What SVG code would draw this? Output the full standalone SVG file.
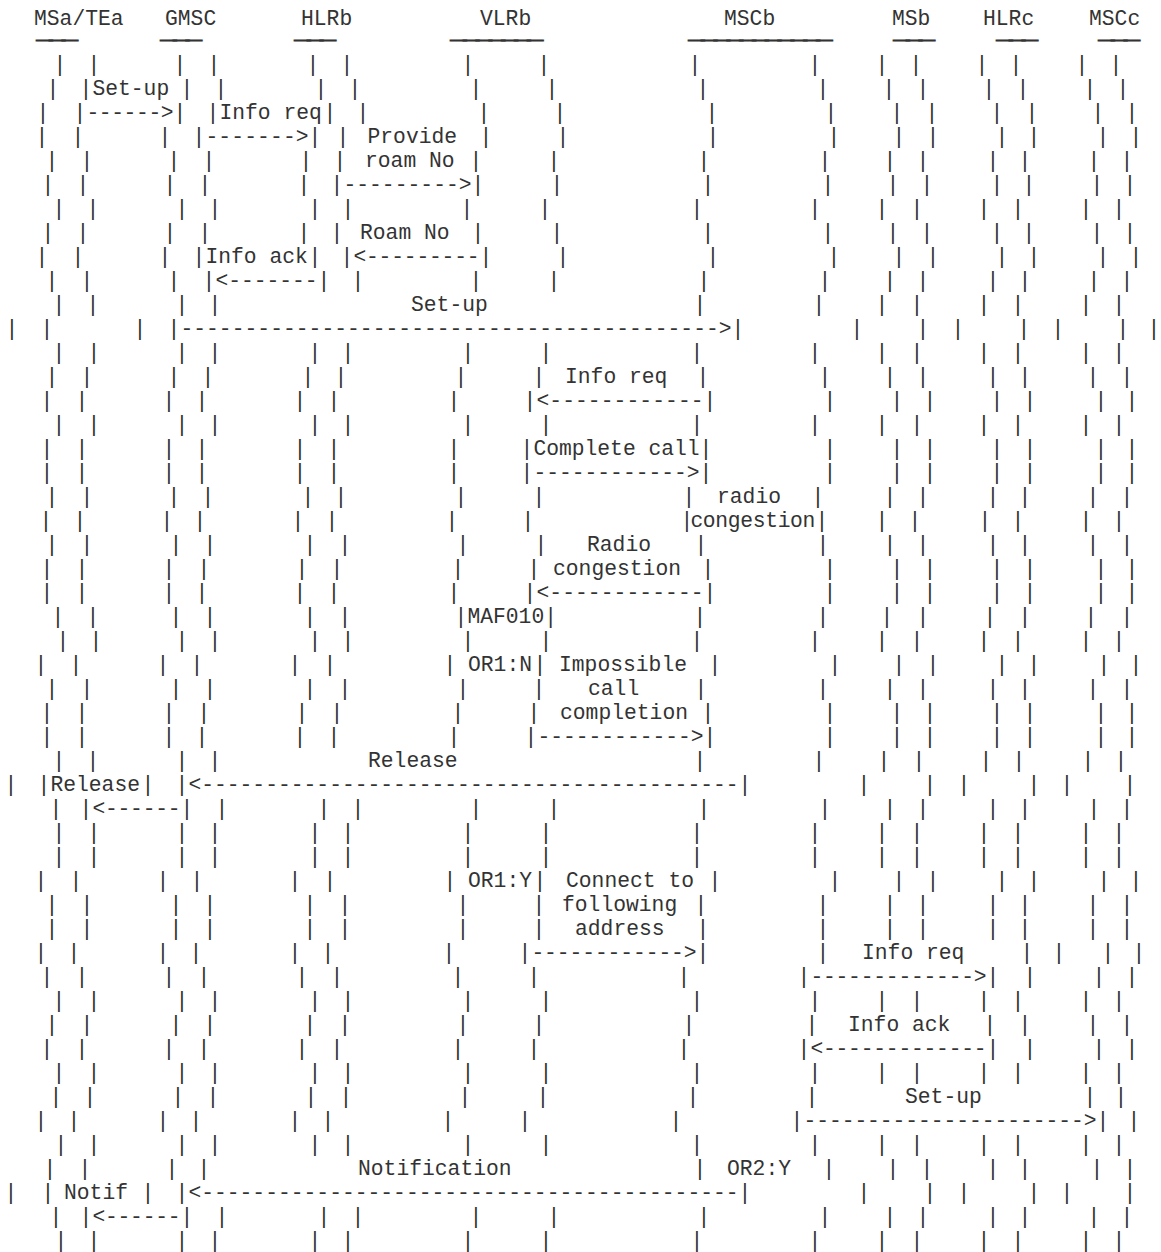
<svg xmlns="http://www.w3.org/2000/svg" width="1161" height="1252" viewBox="0 0 1161 1252">
<style>
text{font-family:"Liberation Mono","Courier New",monospace;font-size:21.33px;fill:#333;white-space:pre}
text.u{font-size:8px;stroke:#333;stroke-width:1.8;stroke-linejoin:miter}
</style>
<rect width="1161" height="1252" fill="#fff"/>
<g id="nodes">
<g id="node-msa-tea"><text x="34" y="25">MSa/TEa</text><text class="u" x="38" y="40" textLength="38.4" lengthAdjust="spacingAndGlyphs">___</text></g>
<g id="node-gmsc"><text x="165" y="25">GMSC</text><text class="u" x="162" y="40" textLength="38.4" lengthAdjust="spacingAndGlyphs">___</text></g>
<g id="node-hlrb"><text x="301" y="25">HLRb</text><text class="u" x="296" y="40" textLength="38.4" lengthAdjust="spacingAndGlyphs">___</text></g>
<g id="node-vlrb"><text x="480" y="25">VLRb</text><text class="u" x="452" y="40" textLength="89.6" lengthAdjust="spacingAndGlyphs">_______</text></g>
<g id="node-mscb"><text x="724" y="25">MSCb</text><text class="u" x="690" y="40" textLength="140.8" lengthAdjust="spacingAndGlyphs">___________</text></g>
<g id="node-msb"><text x="892" y="25">MSb</text><text class="u" x="895" y="40" textLength="38.4" lengthAdjust="spacingAndGlyphs">___</text></g>
<g id="node-hlrc"><text x="983" y="25">HLRc</text><text class="u" x="998" y="40" textLength="38.4" lengthAdjust="spacingAndGlyphs">___</text></g>
<g id="node-mscc"><text x="1089" y="25">MSCc</text><text class="u" x="1100" y="40" textLength="38.4" lengthAdjust="spacingAndGlyphs">___</text></g>
</g>
<g id="lifelines">
<text y="70.5" x="53.6 87.6 173.6 207.6 306.6 340.6 461.6 537.6 688.6 808.6 875.6 909.6 975.6 1009.6 1075.6 1109.6">||||||||||||||||</text>
<text y="94.5" x="46.6 79.6">||</text><text y="94.5" x="180.6 214.6 314.6 348.6 469.6 545.6 696.6 816.6 882.6 916.6 982.6 1016.6 1083.6 1116.6">||||||||||||||</text>
<text y="118.5" x="36.6 73.6">||</text><text y="118.5" x="173.6 206.6">||</text><text y="118.5" x="323.6 356.6 477.6 553.6 705.6 824.6 890.6 925.6 990.6 1025.6 1091.6 1125.6">||||||||||||</text>
<text y="142.5" x="35.6 71.6 158.6 192.6">||||</text><text y="142.5" x="308.6 336.6">||</text><text y="142.5" x="479.6 556.6 706.6 827.6 892.6 926.6 995.6 1027.6 1096.6 1129.6">||||||||||</text>
<text y="166.5" x="45.6 80.6 167.6 202.6 299.6 333.6">||||||</text><text y="166.5" x="469.6 547.6 697.6 818.6 883.6 916.6 986.6 1018.6 1087.6 1120.6">||||||||||</text>
<text y="190.5" x="41.6 76.6 163.6 198.6 297.6 330.6">||||||</text><text y="190.5" x="471.6 550.6 701.6 821.6 886.6 920.6 990.6 1022.6 1090.6 1123.6">||||||||||</text>
<text y="214.5" x="52.6 86.6 175.6 208.6 308.6 341.6 460.6 538.6 690.6 808.6 875.6 910.6 977.6 1011.6 1079.6 1112.6">||||||||||||||||</text>
<text y="238.5" x="41.6 76.6 163.6 198.6 297.6 330.6">||||||</text><text y="238.5" x="471.6 550.6 701.6 821.6 886.6 920.6 990.6 1022.6 1090.6 1123.6">||||||||||</text>
<text y="262.5" x="35.6 71.6 158.6 192.6">||||</text><text y="262.5" x="308.6 340.6">||</text><text y="262.5" x="479.6 556.6 706.6 827.6 892.6 926.6 995.6 1027.6 1096.6 1129.6">||||||||||</text>
<text y="286.5" x="45.6 80.6 167.6 202.6">||||</text><text y="286.5" x="317.6 351.6 469.6 547.6 697.6 818.6 883.6 916.6 986.6 1018.6 1087.6 1120.6">||||||||||||</text>
<text y="310.5" x="52.6 86.6 175.6 208.6">||||</text><text y="310.5" x="693.6 812.6 875.6 910.6 977.6 1011.6 1079.6 1112.6">||||||||</text>
<text y="334.5" x="5.6 40.6 133.6 167.6">||||</text><text y="334.5" x="731.6 850.6 916.6 951.6 1017.6 1051.6 1116.6 1147.6">||||||||</text>
<text y="358.5" x="52.6 87.6 175.6 208.6 308.6 341.6 461.6 539.6 690.6 808.6 875.6 910.6 977.6 1011.6 1079.6 1112.6">||||||||||||||||</text>
<text y="382.5" x="45.6 80.6 167.6 201.6 301.6 334.6 454.6 532.6">||||||||</text><text y="382.5" x="696.6 818.6 883.6 916.6 986.6 1018.6 1086.6 1120.6">||||||||</text>
<text y="406.5" x="40.6 75.6 162.6 195.6 293.6 327.6 447.6 523.6">||||||||</text><text y="406.5" x="703.6 823.6 890.6 923.6 990.6 1023.6 1094.6 1125.6">||||||||</text>
<text y="430.5" x="52.6 87.6 175.6 208.6 308.6 341.6 461.6 539.6 690.6 808.6 875.6 910.6 977.6 1011.6 1079.6 1112.6">||||||||||||||||</text>
<text y="454.5" x="40.6 75.6 162.6 195.6 293.6 327.6 447.6 520.6">||||||||</text><text y="454.5" x="699.6 823.6 890.6 923.6 990.6 1023.6 1094.6 1125.6">||||||||</text>
<text y="478.5" x="40.6 75.6 162.6 195.6 293.6 327.6 447.6 520.6">||||||||</text><text y="478.5" x="699.6 823.6 890.6 923.6 990.6 1023.6 1094.6 1125.6">||||||||</text>
<text y="502.5" x="45.6 80.6 167.6 201.6 301.6 334.6 454.6 532.6 682.6">|||||||||</text><text y="502.5" x="811.6 883.6 916.6 986.6 1018.6 1086.6 1120.6">|||||||</text>
<text y="526.5" x="39.6 73.6 160.6 193.6 291.6 325.6 445.6 521.6 680.6">|||||||||</text><text y="526.5" x="815.6 875.6 908.6 978.6 1011.6 1079.6 1112.6">|||||||</text>
<text y="550.5" x="45.6 80.6 169.6 203.6 303.6 338.6 456.6 534.6">||||||||</text><text y="550.5" x="694.6 816.6 883.6 916.6 986.6 1018.6 1086.6 1120.6">||||||||</text>
<text y="574.5" x="40.6 75.6 162.6 197.6 295.6 330.6 451.6 527.6">||||||||</text><text y="574.5" x="701.6 823.6 890.6 923.6 990.6 1023.6 1094.6 1125.6">||||||||</text>
<text y="598.5" x="40.6 75.6 162.6 195.6 293.6 327.6 447.6 523.6">||||||||</text><text y="598.5" x="703.6 823.6 890.6 923.6 990.6 1023.6 1094.6 1125.6">||||||||</text>
<text y="622.5" x="51.6 86.6 169.6 203.6 303.6 338.6 454.6">|||||||</text><text y="622.5" x="544.2 693.6 816.6 880.6 916.6 983.6 1018.6 1084.6 1120.6">|||||||||</text>
<text y="646.5" x="56.6 89.6 175.6 208.6 308.6 341.6 461.6 539.6 690.6 808.6 875.6 910.6 977.6 1011.6 1079.6 1112.6">||||||||||||||||</text>
<text y="670.5" x="34.6 69.6 156.6 190.6 288.6 323.6 443.6">|||||||</text><text y="670.5" x="533.6">|</text><text y="670.5" x="708.6 828.6 892.6 926.6 995.6 1027.6 1097.6 1129.6">||||||||</text>
<text y="694.5" x="45.6 80.6 169.6 203.6 303.6 338.6 456.6 532.6">||||||||</text><text y="694.5" x="694.6 816.6 883.6 916.6 986.6 1018.6 1086.6 1120.6">||||||||</text>
<text y="718.5" x="40.6 75.6 162.6 197.6 295.6 330.6 451.6 527.6">||||||||</text><text y="718.5" x="701.6 823.6 890.6 923.6 990.6 1023.6 1094.6 1125.6">||||||||</text>
<text y="742.5" x="40.6 75.6 162.6 195.6 293.6 327.6 447.6 524.6">||||||||</text><text y="742.5" x="703.6 823.6 890.6 923.6 990.6 1023.6 1094.6 1125.6">||||||||</text>
<text y="766.5" x="52.6 86.6 175.6 208.6">||||</text><text y="766.5" x="693.6 812.6 877.6 912.6 979.6 1012.6 1081.6 1114.6">||||||||</text>
<text y="790.5" x="4.6 37.6">||</text><text y="790.5" x="141.6 175.6">||</text><text y="790.5" x="738.6 857.6 923.6 957.6 1027.6 1060.6 1123.6">|||||||</text>
<text y="814.5" x="49.6 79.6">||</text><text y="814.5" x="180.6 215.6 317.6 351.6 469.6 547.6 697.6 818.6 883.6 916.6 986.6 1018.6 1087.6 1120.6">||||||||||||||</text>
<text y="838.5" x="52.6 87.6 175.6 208.6 308.6 341.6 461.6 539.6 690.6 808.6 875.6 910.6 977.6 1011.6 1079.6 1112.6">||||||||||||||||</text>
<text y="862.5" x="52.6 87.6 175.6 208.6 308.6 341.6 461.6 539.6 690.6 808.6 875.6 910.6 977.6 1011.6 1079.6 1112.6">||||||||||||||||</text>
<text y="886.5" x="34.6 69.6 156.6 190.6 288.6 323.6 443.6">|||||||</text><text y="886.5" x="533.6">|</text><text y="886.5" x="708.6 828.6 892.6 926.6 995.6 1027.6 1097.6 1129.6">||||||||</text>
<text y="910.5" x="45.6 80.6 169.6 203.6 303.6 338.6 456.6 532.6">||||||||</text><text y="910.5" x="694.6 816.6 883.6 916.6 986.6 1018.6 1086.6 1120.6">||||||||</text>
<text y="934.5" x="45.6 80.6 169.6 203.6 303.6 338.6 456.6 532.6">||||||||</text><text y="934.5" x="696.6 816.6 883.6 916.6 986.6 1018.6 1086.6 1120.6">||||||||</text>
<text y="958.5" x="34.6 67.6 156.6 189.6 288.6 321.6 442.6 518.6">||||||||</text><text y="958.5" x="696.6 816.6">||</text><text y="958.5" x="1020.6 1052.6 1101.6 1132.6">||||</text>
<text y="982.5" x="40.6 75.6 162.6 197.6 295.6 330.6 451.6 527.6 677.6 797.6">||||||||||</text><text y="982.5" x="986.6 1023.6 1092.6 1125.6">||||</text>
<text y="1006.5" x="52.6 87.6 175.6 208.6 308.6 341.6 461.6 539.6 690.6 808.6 875.6 910.6 977.6 1011.6 1079.6 1112.6">||||||||||||||||</text>
<text y="1030.5" x="45.6 80.6 169.6 203.6 303.6 338.6 456.6 532.6 682.6 805.6">||||||||||</text><text y="1030.5" x="983.6 1018.6 1086.6 1120.6">||||</text>
<text y="1054.5" x="40.6 75.6 162.6 197.6 295.6 330.6 451.6 527.6 677.6 797.6">||||||||||</text><text y="1054.5" x="986.6 1023.6 1092.6 1125.6">||||</text>
<text y="1078.5" x="52.6 87.6 175.6 208.6 308.6 341.6 461.6 539.6 690.6 808.6 875.6 910.6 977.6 1011.6 1079.6 1112.6">||||||||||||||||</text>
<text y="1102.5" x="49.6 83.6 171.6 206.6 304.6 339.6 458.6 536.6 686.6 805.6">||||||||||</text><text y="1102.5" x="1083.6 1114.6">||</text>
<text y="1126.5" x="34.6 67.6 156.6 189.6 288.6 321.6 441.6 518.6 669.6 790.6">||||||||||</text><text y="1126.5" x="1096.6 1127.6">||</text>
<text y="1150.5" x="54.6 87.6 175.6 208.6 308.6 341.6 461.6 539.6 690.6 808.6 875.6 910.6 977.6 1011.6 1079.6 1112.6">||||||||||||||||</text>
<text y="1174.5" x="43.6 78.6 165.6 197.6">||||</text><text y="1174.5" x="693.6">|</text><text y="1174.5" x="822.6 886.6 920.6 986.6 1018.6 1090.6 1123.6">|||||||</text>
<text y="1198.5" x="4.6 41.6">||</text><text y="1198.5" x="141.6 175.6">||</text><text y="1198.5" x="738.6 857.6 923.6 957.6 1027.6 1060.6 1123.6">|||||||</text>
<text y="1222.5" x="49.6 79.6">||</text><text y="1222.5" x="180.6 215.6 317.6 351.6 469.6 547.6 697.6 818.6 883.6 916.6 986.6 1018.6 1087.6 1120.6">||||||||||||||</text>
<text y="1246.5" x="54.6 87.6 175.6 208.6 308.6 341.6 461.6 539.6 690.6 808.6 875.6 910.6 977.6 1011.6 1079.6 1112.6">||||||||||||||||</text>
</g>
<g id="connectors">
<text x="86.4" y="118.5" textLength="87.2" lengthAdjust="spacing">------&gt;</text>
<text x="205.4" y="142.5" textLength="103.2" lengthAdjust="spacing">-------&gt;</text>
<text x="343.4" y="190.5" textLength="128.2" lengthAdjust="spacing">---------&gt;</text>
<text x="353.4" y="262.5" textLength="126.2" lengthAdjust="spacing">&lt;---------</text>
<text x="215.4" y="286.5" textLength="102.2" lengthAdjust="spacing">&lt;-------</text>
<text x="180.4" y="334.5" textLength="551.2" lengthAdjust="spacing">------------------------------------------&gt;</text>
<text x="536.4" y="406.5" textLength="167.2" lengthAdjust="spacing">&lt;------------</text>
<text x="533.4" y="478.5" textLength="166.2" lengthAdjust="spacing">------------&gt;</text>
<text x="536.4" y="598.5" textLength="167.2" lengthAdjust="spacing">&lt;------------</text>
<text x="537.4" y="742.5" textLength="166.2" lengthAdjust="spacing">------------&gt;</text>
<text x="188.4" y="790.5" textLength="550.2" lengthAdjust="spacing">&lt;------------------------------------------</text>
<text x="92.4" y="814.5" textLength="88.2" lengthAdjust="spacing">&lt;------</text>
<text x="531.4" y="958.5" textLength="165.2" lengthAdjust="spacing">------------&gt;</text>
<text x="810.4" y="982.5" textLength="176.2" lengthAdjust="spacing">-------------&gt;</text>
<text x="810.4" y="1054.5" textLength="176.2" lengthAdjust="spacing">&lt;-------------</text>
<text x="803.4" y="1126.5" textLength="293.2" lengthAdjust="spacing">----------------------&gt;</text>
<text x="188.4" y="1198.5" textLength="550.2" lengthAdjust="spacing">&lt;------------------------------------------</text>
<text x="92.4" y="1222.5" textLength="88.2" lengthAdjust="spacing">&lt;------</text>
</g>
<g id="labels">
<text x="92.4" y="94.5">Set-up</text>
<text x="219.4" y="118.5">Info req</text>
<text x="367.5" y="142.5">Provide</text>
<text x="365" y="166.5">roam No</text>
<text x="360" y="238.5">Roam No</text>
<text x="205.4" y="262.5">Info ack</text>
<text x="411" y="310.5">Set-up</text>
<text x="565" y="382.5">Info req</text>
<text x="533.4" y="454.5" textLength="166.2" lengthAdjust="spacing">Complete call</text>
<text x="717" y="502.5">radio</text>
<text x="690.4" y="526.5" textLength="125" lengthAdjust="spacing">congestion</text>
<text x="587" y="550.5">Radio</text>
<text x="553" y="574.5">congestion</text>
<text x="467.4" y="622.5">MAF010</text>
<text x="468" y="670.5">OR1:N</text>
<text x="559" y="670.5">Impossible</text>
<text x="588" y="694.5">call</text>
<text x="560" y="718.5">completion</text>
<text x="368" y="766.5">Release</text>
<text x="50.4" y="790.5">Release</text>
<text x="468" y="886.5">OR1:Y</text>
<text x="566" y="886.5">Connect to</text>
<text x="562" y="910.5">following</text>
<text x="575" y="934.5">address</text>
<text x="862" y="958.5">Info req</text>
<text x="848" y="1030.5">Info ack</text>
<text x="905" y="1102.5">Set-up</text>
<text x="358" y="1174.5">Notification</text>
<text x="727" y="1174.5">OR2:Y</text>
<text x="64" y="1198.5">Notif</text>
</g>
</svg>
